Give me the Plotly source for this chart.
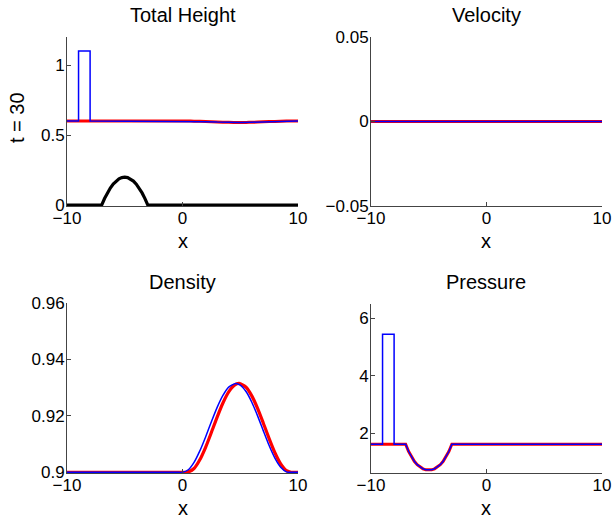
import plotly.graph_objects as go

# ---------------- data ----------------
# Total Height panel
th_blue_x = [-10, -9, -9, -8, -8, -0.5, 0, 1, 2, 3, 4, 4.6, 5, 6, 7, 8, 9, 9.2, 9.7, 10]
th_blue_y = [0.6, 0.6, 1.1, 1.1, 0.6, 0.6, 0.6, 0.5989, 0.5960, 0.5927, 0.5904, 0.59,
             0.5902, 0.5921, 0.5953, 0.5984, 0.59995, 0.6, 0.6, 0.6]
th_red_x = [-10, -0.5, 0.4, 1, 2, 3, 4, 4.9, 5.5, 6, 7, 8, 9, 9.4, 9.8, 10]
th_red_y = [0.6, 0.6, 0.6, 0.5996, 0.5972, 0.5938, 0.5910, 0.59, 0.5904, 0.5914, 0.5945,
            0.5978, 0.5998, 0.6, 0.6, 0.6]
bottom_x = [-10, -7, -6.75, -6.5, -6.25, -6, -5.75, -5.5, -5.25, -5, -4.75, -4.5, -4.25,
            -4, -3.75, -3.5, -3.25, -3, 10]
bottom_y = [0, 0, 0.047, 0.0875, 0.122, 0.15, 0.172, 0.1875, 0.197, 0.2, 0.197, 0.1875,
            0.172, 0.15, 0.122, 0.0875, 0.047, 0, 0]

# Velocity panel
vel_x = [-10, 10]
vel_blue_y = [0, 0]
vel_red_y = [0, 0]

# Density panel
den_blue_x = [-10, -0.5, 0, 0.5, 1, 1.5, 2, 2.5, 3, 3.5, 4, 4.6, 5, 5.5, 6, 6.5, 7, 7.5,
              8, 8.5, 9, 9.2, 9.7, 10]
den_blue_y = [0.9, 0.9, 0.9, 0.90091, 0.90353, 0.90758, 0.91254, 0.9179, 0.9230, 0.92726,
              0.9302, 0.9315, 0.93092, 0.92862, 0.92483, 0.9200, 0.91468, 0.90948,
              0.90501, 0.9018, 0.90015, 0.9, 0.9, 0.9]
den_red_x = [-10, -0.1, 0.4, 1, 1.5, 2, 2.5, 3, 3.5, 4, 4.5, 4.9, 5.5, 6, 6.5, 7, 7.5, 8,
             8.5, 9, 9.4, 9.8, 10]
den_red_y = [0.9, 0.9, 0.9, 0.90136, 0.90442, 0.90885, 0.91411, 0.91956, 0.92456, 0.92849,
             0.93089, 0.9315, 0.93014, 0.92708, 0.92265, 0.9174, 0.91194, 0.90694,
             0.90301, 0.90061, 0.9, 0.9, 0.9]

# Pressure panel
pr_blue_x = [-10, -9, -9, -8, -8, -7, -6.75, -6.5, -6.25, -6, -5.75, -5.5, -5.25, -5,
             -4.75, -4.5, -4.25, -4, -3.75, -3.5, -3.25, -3, 10]
pr_blue_y = [1.62, 1.62, 5.445, 5.445, 1.62, 1.62, 1.376, 1.182, 1.028, 0.911, 0.824,
             0.766, 0.731, 0.72, 0.731, 0.766, 0.824, 0.911, 1.028, 1.182, 1.376, 1.62, 1.62]
pr_red_x = [-10, -7, -6.75, -6.5, -6.25, -6, -5.75, -5.5, -5.25, -5, -4.75, -4.5, -4.25,
            -4, -3.75, -3.5, -3.25, -3, 10]
pr_red_y = [1.62, 1.62, 1.376, 1.182, 1.028, 0.911, 0.824, 0.766, 0.731, 0.72, 0.731,
            0.766, 0.824, 0.911, 1.028, 1.182, 1.376, 1.62, 1.62]

titles = ["Total Height", "Velocity", "Density", "Pressure"]
x_ticks = [-10, 0, 10]
x_ticktext = ["\u221210", "0", "10"]

# ---------------- figure ----------------
W, H = 612, 519
FONT = "Liberation Sans, Arial, Helvetica, sans-serif"
BLUE = "#0000ff"
RED = "#ff0000"

fig = go.Figure()

def add(x, y, ax, color, width, shape="linear"):
    line = dict(color=color, width=width, shape=shape)
    if shape == "spline":
        line["smoothing"] = 0.6
    fig.add_trace(go.Scatter(x=x, y=y, mode="lines", xaxis="x" + ax, yaxis="y" + ax,
                             line=line, showlegend=False, hoverinfo="skip"))

# panel 1
add(bottom_x, bottom_y, "", "#000000", 3.2)
add(th_red_x, th_red_y, "", RED, 3, "spline")
add(th_blue_x, th_blue_y, "", BLUE, 1.5)
# panel 2
add(vel_x, vel_red_y, "2", RED, 3)
add(vel_x, vel_blue_y, "2", BLUE, 1.5)
# panel 3
add(den_red_x, den_red_y, "3", RED, 3.2, "spline")
add(den_blue_x, den_blue_y, "3", BLUE, 1.5, "spline")
# panel 4
add(pr_red_x, pr_red_y, "4", RED, 3)
add(pr_blue_x, pr_blue_y, "4", BLUE, 1.5)

def px_x(a, b):
    return [a / W, b / W]

def px_y(top, bot):
    return [1 - bot / H, 1 - top / H]

def fx(p):
    return p / W

def fy(p):
    return 1 - p / H

AXCOL = "#444444"
axis_common = dict(showline=True, linecolor=AXCOL, linewidth=1, mirror=False,
                   showgrid=False, zeroline=False, ticks="inside", ticklen=4,
                   tickcolor=AXCOL, tickwidth=1, automargin=False,
                   tickfont=dict(family=FONT, size=17, color="#000000"))

xd = [px_x(67, 298), px_x(371, 602), px_x(67, 298), px_x(371, 602)]
yd = [px_y(37, 206), px_y(37, 206), px_y(303, 473), px_y(304, 473)]
yranges = [[-0.006, 1.2], [-0.05, 0.05], [0.89975, 0.96], [0.62, 6.5]]
yticks = [[0, 0.5, 1], [-0.05, 0, 0.05], [0.9, 0.92, 0.94, 0.96], [2, 4, 6]]
yticktext = [["0", "0.5", "1"], ["\u22120.05", "0", "0.05"],
             ["0.9", "0.92", "0.94", "0.96"], ["2", "4", "6"]]

layout = dict(width=W, height=H, margin=dict(l=0, r=0, t=0, b=0),
              paper_bgcolor="white", plot_bgcolor="white",
              font=dict(family=FONT, color="#000000"))
for i in range(4):
    s = "" if i == 0 else str(i + 1)
    layout["xaxis" + s] = dict(axis_common, domain=xd[i], range=[-10, 10],
                               tickvals=x_ticks, ticktext=x_ticktext,
                               anchor="y" + s, ticklabelstandoff=-3)
    layout["yaxis" + s] = dict(axis_common, domain=yd[i], range=yranges[i],
                               tickvals=yticks[i], ticktext=yticktext[i],
                               anchor="x" + s, ticklabelstandoff=-2)

annotations = []
title_pos = [(182.5, 15), (486.5, 15), (182.5, 282), (486.5, 282)]
for t, (cx, cy) in zip(titles, title_pos):
    annotations.append(dict(text=t, x=fx(cx), y=fy(cy), xref="paper", yref="paper",
                            xanchor="center", yanchor="middle", showarrow=False,
                            font=dict(family=FONT, size=20, color="#000000")))
for cx, cy in [(182.5, 241), (486.5, 241), (182.5, 508), (486.5, 508)]:
    annotations.append(dict(text="x", x=fx(cx), y=fy(cy), xref="paper", yref="paper",
                            xanchor="center", yanchor="middle", showarrow=False,
                            font=dict(family=FONT, size=20, color="#000000")))
annotations.append(dict(text="t = 30", x=fx(17), y=fy(118), xref="paper",
                        yref="paper", xanchor="center", yanchor="middle", textangle=-90,
                        showarrow=False, font=dict(family=FONT, size=20, color="#000000")))
layout["annotations"] = annotations

fig.update_layout(**layout)
fig.write_html("out.html", config={"displayModeBar": False},
               post_script="document.body.style.margin='0';"
                           "document.body.style.overflow='hidden';")
